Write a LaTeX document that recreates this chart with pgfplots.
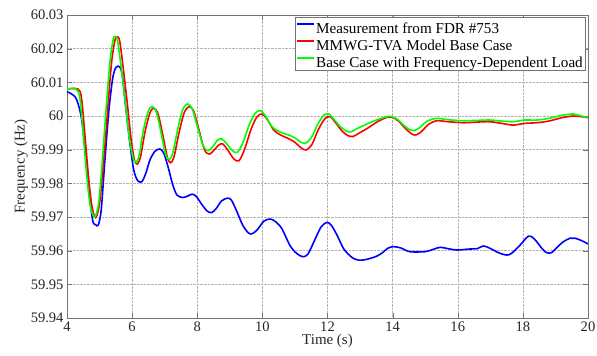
\documentclass[border=0pt]{standalone}
\usepackage{fontspec}
\setmainfont{Liberation Serif}
\usepackage{pgfplots}
\pgfplotsset{compat=1.18}
\begin{document}
\begin{tikzpicture}
\begin{axis}[
 at={(0,0)}, anchor=south west,
 scale only axis, width=521bp, height=303bp,
 xmin=4, xmax=20, ymin=59.94, ymax=60.03,
 xtick={4,6,8,10,12,14,16,18,20},
 ytick={59.94,59.95,59.96,59.97,59.98,59.99,60,60.01,60.02,60.03},
 yticklabels={59.94,59.95,59.96,59.97,59.98,59.99,60,60.01,60.02,60.03},
 tick align=inside, major tick length=5bp,
 grid=major, grid style={densely dotted, black!30, line width=0.4bp},
 axis line style={black!55, line width=0.6bp},
 tick style={black!55},
 ticklabel style={font=\fontsize{14.6}{17}\selectfont, text=black!85},
 /pgf/number format/assume math mode=true,
 xlabel={Time (s)}, ylabel={Frequency (Hz)},
 label style={font=\fontsize{15}{17}\selectfont, text=black!85},
 xlabel style={at={(axis description cs:0.5,-0.076)}, anchor=center},
 ylabel style={at={(axis description cs:-0.088,0.5)}, anchor=center},
 legend style={at={(0.9942,0.9934)}, anchor=north east, draw=black!55,
   font=\fontsize{15.2}{18}\selectfont, inner sep=1bp, row sep=0bp,
   column sep=0bp,
   nodes={inner xsep=1bp, inner ysep=0bp},
   cells={anchor=west}},
 legend image code/.code={\path[draw=none,fill=none] (0bp,-1bp) rectangle (17bp,10bp);
   \draw[#1, line width=1.6bp] (0bp,4.5bp) -- (17bp,4.5bp);},
 every axis plot/.append style={line width=1.6bp, smooth, tension=0.5},
]
\addplot[blue] coordinates {
(4.00,60.0072) (4.15,60.0065) (4.30,60.0048) (4.45,59.9990) (4.60,59.9860)
(4.72,59.9740) (4.80,59.9685) (4.88,59.9677) (4.96,59.9676) (5.05,59.9720)
(5.15,59.9850) (5.28,60.0010) (5.40,60.0110) (5.50,60.0144) (5.62,60.0146)
(5.70,60.0120) (5.80,60.0030) (5.93,59.9920) (6.05,59.9840) (6.17,59.9808)
(6.30,59.9805) (6.42,59.9830) (6.55,59.9870) (6.70,59.9895) (6.85,59.9902)
(6.97,59.9890) (7.10,59.9850) (7.25,59.9795) (7.38,59.9765) (7.55,59.9758)
(7.70,59.9762) (7.85,59.9768) (7.98,59.9760) (8.12,59.9740) (8.30,59.9718)
(8.44,59.9713) (8.58,59.9725) (8.75,59.9748) (8.93,59.9756) (9.05,59.9750)
(9.20,59.9720) (9.40,59.9675) (9.58,59.9652) (9.70,59.9651) (9.85,59.9663)
(10.05,59.9688) (10.25,59.9694) (10.42,59.9685) (10.60,59.9665) (10.85,59.9615)
(11.05,59.9592) (11.24,59.9582) (11.40,59.9590) (11.60,59.9630) (11.80,59.9670)
(11.98,59.9684) (12.12,59.9675) (12.30,59.9645) (12.50,59.9605) (12.75,59.9580)
(12.95,59.9572) (13.20,59.9574) (13.52,59.9584) (13.70,59.9595) (13.85,59.9607)
(14.02,59.9612) (14.25,59.9608) (14.53,59.9597) (15.00,59.9597) (15.25,59.9604)
(15.46,59.9610) (15.70,59.9606) (15.97,59.9602) (16.38,59.9605) (16.60,59.9606)
(16.79,59.9614) (16.99,59.9607) (17.25,59.9594) (17.50,59.9587) (17.65,59.9592)
(17.90,59.9615) (18.17,59.9643) (18.35,59.9635) (18.60,59.9605) (18.73,59.9594)
(18.88,59.9594) (19.05,59.9610) (19.25,59.9627) (19.45,59.9637) (19.60,59.9637)
(19.80,59.9630) (20.00,59.9620)
};
\addlegendentry{\strut Measurement from FDR \#753}
\addplot[red] coordinates {
(4.00,60.0080) (4.34,60.0080) (4.45,60.0050) (4.57,59.9920) (4.67,59.9810)
(4.77,59.9730) (4.88,59.9698) (5.00,59.9740) (5.12,59.9860) (5.25,60.0020)
(5.37,60.0160) (5.48,60.0228) (5.55,60.0235) (5.62,60.0222) (5.73,60.0140)
(5.86,60.0030) (5.97,59.9930) (6.07,59.9870) (6.16,59.9857) (6.26,59.9880)
(6.40,59.9955) (6.55,60.0010) (6.67,60.0023) (6.80,60.0005) (6.95,59.9940)
(7.08,59.9878) (7.18,59.9861) (7.29,59.9880) (7.44,59.9950) (7.60,60.0010)
(7.76,60.0028) (7.90,60.0012) (8.05,59.9960) (8.22,59.9900) (8.37,59.9887)
(8.53,59.9900) (8.66,59.9914) (8.78,59.9917) (8.93,59.9900) (9.12,59.9873)
(9.28,59.9867) (9.45,59.9900) (9.65,59.9960) (9.83,59.9997) (9.99,60.0006)
(10.15,59.9990) (10.35,59.9958) (10.55,59.9944) (10.80,59.9933) (11.00,59.9922)
(11.18,59.9906) (11.34,59.9899) (11.52,59.9915) (11.72,59.9960) (11.92,59.9992)
(12.08,59.9998) (12.25,59.9980) (12.45,59.9955) (12.62,59.9942) (12.78,59.9939)
(12.95,59.9948) (13.25,59.9965) (13.55,59.9984) (13.80,59.9995) (13.98,59.9997)
(14.18,59.9985) (14.40,59.9962) (14.60,59.9946) (14.73,59.9944) (14.90,59.9955)
(15.10,59.9975) (15.35,59.9986) (15.70,59.9983) (16.17,59.9980) (16.60,59.9982)
(16.99,59.9983) (17.35,59.9978) (17.70,59.9973) (18.05,59.9978) (18.42,59.9980)
(18.80,59.9985) (19.20,59.9995) (19.55,60.0000) (19.80,59.9998) (20.00,59.9995)
};
\addlegendentry{\strut MMWG-TVA Model Base Case}
\addplot[green] coordinates {
(4.00,60.0080) (4.28,60.0080) (4.40,60.0050) (4.52,59.9920) (4.62,59.9810)
(4.72,59.9730) (4.85,59.9700) (4.97,59.9740) (5.08,59.9860) (5.20,60.0020)
(5.32,60.0160) (5.42,60.0228) (5.48,60.0236) (5.55,60.0225) (5.67,60.0140)
(5.80,60.0030) (5.92,59.9930) (6.03,59.9875) (6.12,59.9862) (6.22,59.9885)
(6.35,59.9960) (6.50,60.0015) (6.62,60.0028) (6.75,60.0010) (6.90,59.9945)
(7.03,59.9885) (7.14,59.9871) (7.25,59.9890) (7.40,59.9960) (7.55,60.0018)
(7.70,60.0036) (7.85,60.0020) (8.00,59.9970) (8.18,59.9912) (8.34,59.9897)
(8.50,59.9912) (8.62,59.9928) (8.75,59.9932) (8.90,59.9918) (9.08,59.9897)
(9.23,59.9892) (9.40,59.9920) (9.60,59.9975) (9.78,60.0008) (9.94,60.0016)
(10.10,60.0000) (10.30,59.9968) (10.55,59.9952) (10.80,59.9944) (11.00,59.9935)
(11.15,59.9924) (11.31,59.9919) (11.50,59.9935) (11.70,59.9975) (11.88,60.0002)
(12.03,60.0006) (12.20,59.9990) (12.40,59.9968) (12.58,59.9955) (12.72,59.9953)
(12.90,59.9962) (13.20,59.9976) (13.50,59.9988) (13.75,59.9996) (13.95,59.9999)
(14.15,59.9990) (14.35,59.9972) (14.55,59.9958) (14.68,59.9957) (14.85,59.9967)
(15.05,59.9984) (15.35,59.9993) (15.70,59.9989) (16.17,59.9986) (16.60,59.9987)
(16.99,59.9988) (17.35,59.9985) (17.70,59.9983) (18.05,59.9988) (18.42,59.9988)
(18.80,59.9993) (19.20,60.0002) (19.55,60.0006) (19.80,60.0000) (20.00,59.9995)
};
\addlegendentry{\strut Base Case with Frequency-Dependent Load}
\end{axis}
\pgfresetboundingbox
\path[use as bounding box] (-67bp,-38bp) rectangle (530bp,318bp);
\end{tikzpicture}
\end{document}
